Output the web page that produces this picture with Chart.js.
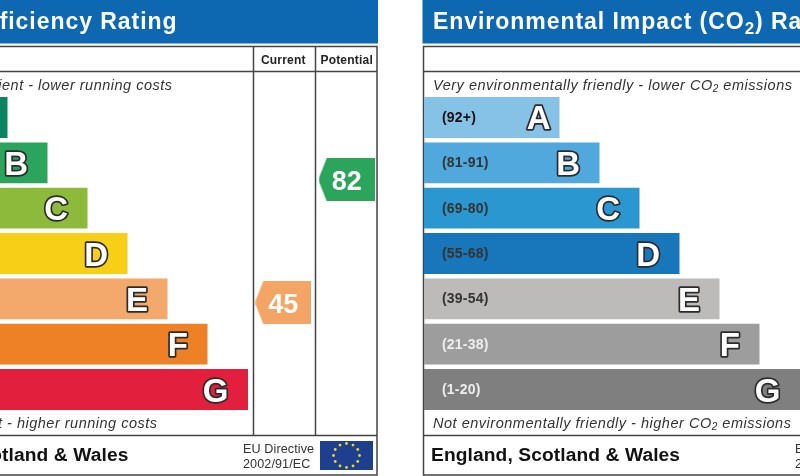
<!DOCTYPE html>
<html>
<head>
<meta charset="utf-8">
<title>Energy Performance Certificate ratings</title>
<script src="https://cdn.jsdelivr.net/npm/chart.js@4"></script>
<style>
  html, body { margin: 0; padding: 0; background: #fff; overflow: hidden; }
  canvas { display: block; }
</style>
</head>
<body>
<canvas id="epc" width="800" height="476"></canvas>
<script>
// Bandas y longitud de cada barra (misma escala para los dos paneles)
const bands = ['A', 'B', 'C', 'D', 'E', 'F', 'G'];
const bandRanges = ['(92+)', '(81-91)', '(69-80)', '(55-68)', '(39-54)', '(21-38)', '(1-20)'];
const bandLengths = [135.5, 175.5, 215.5, 255.5, 295.5, 335.5, 376];

const energyColors = ['#0b8560', '#2ba45c', '#8dba3b', '#f8cf17', '#f3a86c', '#ee8026', '#e21f3d'];
const co2Colors = ['#86c1e6', '#50a8dc', '#2a97d1', '#1876bb', '#bcbbba', '#9d9d9d', '#7f7f7f'];
const co2RangeColors = ['#111', '#333', '#333', '#333', '#333', '#eee', '#eee'];

// Puntuaciones
const ratingColumns = ['Current', 'Potential'];
const ratingScores = [45, 82];
const ratingColors = ['#f4a566', '#2ba45c'];

const NAVY = '#0d68b1';
const LINE = '#444';
const FONT = '"Liberation Sans", Arial, sans-serif';

// Etiqueta con flecha para las puntuaciones
function crearEtiqueta(color) {
    const c = document.createElement('canvas');
    c.width = 56;
    c.height = 43;
    const g = c.getContext('2d');
    g.fillStyle = color;
    g.beginPath();
    g.moveTo(56, 0);
    g.lineTo(8, 0);
    g.lineTo(0.5, 19);
    g.quadraticCurveTo(0, 21.5, 0.5, 24);
    g.lineTo(8, 43);
    g.lineTo(56, 43);
    g.closePath();
    g.fill();
    return c;
}

function texto(ctx, str, x, y, font, color, align, spacing) {
    ctx.font = font;
    ctx.fillStyle = color;
    ctx.textAlign = align || 'left';
    ctx.textBaseline = 'alphabetic';
    ctx.letterSpacing = (spacing || 0) + 'px';
    ctx.fillText(str, x, y);
}

// Texto con CO2 y subindice
function textoCO2(ctx, antes, despues, x, y, size, font, color, spacing, subRatio) {
    texto(ctx, antes, x, y, font + ' ' + size + 'px ' + FONT, color, 'left', spacing);
    x += ctx.measureText(antes).width;
    const subSize = Math.round(size * subRatio);
    texto(ctx, '2', x, y + size * 0.2, font + ' ' + subSize + 'px ' + FONT, color, 'left', 0);
    x += ctx.measureText('2').width + spacing;
    texto(ctx, despues, x, y, font + ' ' + size + 'px ' + FONT, color, 'left', spacing);
}

function banderaUE(ctx, x, y) {
    ctx.fillStyle = '#1d3f8e';
    ctx.fillRect(x, y, 53, 29);
    ctx.fillStyle = '#f0d728';
    for (let i = 0; i < 12; i++) {
        const a = i * Math.PI / 6;
        ctx.beginPath();
        ctx.arc(x + 26.5 + 13 * Math.sin(a), y + 14.5 + 12 * Math.cos(a), 1.4, 0, Math.PI * 2);
        ctx.fill();
    }
}

// Marcos, cabeceras y textos que no son datos
const marcoPlugin = {
    id: 'marco',
    beforeDatasetsDraw(chart) {
        const ctx = chart.ctx;
        ctx.save();
        ctx.fillStyle = NAVY;
        ctx.fillRect(0, 0, 378, 43.5);
        ctx.fillRect(422.5, 0, 378, 43.5);

        ctx.strokeStyle = LINE;
        ctx.lineWidth = 1.5;
        ctx.beginPath();
        // panel izquierdo
        ctx.moveTo(0, 46.5); ctx.lineTo(377, 46.5); ctx.lineTo(377, 475); ctx.lineTo(0, 475);
        ctx.moveTo(0, 71.5); ctx.lineTo(377, 71.5);
        ctx.moveTo(0, 435.5); ctx.lineTo(377, 435.5);
        ctx.moveTo(253.5, 46.5); ctx.lineTo(253.5, 435.5);
        ctx.moveTo(315.5, 46.5); ctx.lineTo(315.5, 435.5);
        // panel derecho
        ctx.moveTo(800, 46.5); ctx.lineTo(423.5, 46.5); ctx.lineTo(423.5, 475); ctx.lineTo(800, 475);
        ctx.moveTo(423.5, 71.5); ctx.lineTo(800, 71.5);
        ctx.moveTo(423.5, 435.5); ctx.lineTo(800, 435.5);
        ctx.stroke();
        ctx.restore();
    },
    afterDatasetsDraw(chart) {
        const ctx = chart.ctx;
        ctx.save();

        // Titulos
        texto(ctx, 'Energy Efficiency Rating', 177.5, 29, 'bold 23px ' + FONT, '#fff', 'right', 0.95);
        textoCO2(ctx, 'Environmental Impact (CO', ') Rating', 433, 29, 23, 'bold', '#fff', 0.95, 0.76);

        // Columnas
        const cols = chart.scales.xCols;
        ratingColumns.forEach((col, i) => {
            texto(ctx, col, cols.getPixelForValue(i), 63.5, 'bold 12px ' + FONT, '#222', 'center', 0.2);
        });

        // Frases
        const italic = 'italic 14.5px ' + FONT;
        texto(ctx, 'Very energy efficient - lower running costs', 172.5, 89.5, italic, '#333', 'right', 0.5);
        texto(ctx, 'Not energy efficient - higher running costs', 157.5, 427.5, italic, '#333', 'right', 0.5);
        textoCO2(ctx, 'Very environmentally friendly - lower CO', ' emissions', 433, 89.5, 14.5, 'italic', '#333', 0.52, 0.66);
        textoCO2(ctx, 'Not environmentally friendly - higher CO', ' emissions', 433, 427.5, 14.5, 'italic', '#333', 0.52, 0.66);

        // Pie
        texto(ctx, 'England, Scotland & Wales', 128.5, 461, 'bold 19.2px ' + FONT, '#111', 'right', 0.1);
        texto(ctx, 'England, Scotland & Wales', 431, 461, 'bold 19.2px ' + FONT, '#111', 'left', 0.1);
        [0, 552].forEach(dx => {
            texto(ctx, 'EU Directive', 243 + dx, 453, '12.6px ' + FONT, '#333', 'left', 0.1);
            texto(ctx, '2002/91/EC', 243 + dx, 468, '12.6px ' + FONT, '#333', 'left', 0.1);
            banderaUE(ctx, 320 + dx, 441);
        });

        // Letras y rangos de cada banda
        chart.data.datasets.forEach((ds, d) => {
            if (ds.type === 'scatter') return;
            chart.getDatasetMeta(d).data.forEach((bar, i) => {
                const fin = bar.x - (i === 0 ? 9 : 19.5);
                ctx.font = 'bold 33px ' + FONT;
                ctx.textAlign = 'right';
                ctx.textBaseline = 'alphabetic';
                ctx.letterSpacing = '0px';
                ctx.lineJoin = 'round';
                ctx.lineWidth = 3.4;
                ctx.strokeStyle = '#2b2b2b';
                ctx.strokeText(bands[i], fin, bar.y + 12);
                ctx.fillStyle = '#fff';
                ctx.fillText(bands[i], fin, bar.y + 12);
                if (ds.label === 'co2') {
                    texto(ctx, bandRanges[i], 442, bar.y + 4.5, 'bold 14px ' + FONT, co2RangeColors[i], 'left', 0.2);
                }
            });
        });

        // Numero de las etiquetas
        chart.getDatasetMeta(2).data.forEach((pt, i) => {
            texto(ctx, String(ratingScores[i]), pt.x, pt.y + 10, 'bold 27px ' + FONT, '#fff', 'center', 0);
        });
        ctx.restore();
    }
};

new Chart(document.getElementById('epc').getContext('2d'), {
    type: 'bar',
    data: {
        labels: bands,
        datasets: [
            {
                label: 'energy',
                data: bandLengths,
                backgroundColor: energyColors,
                xAxisID: 'xLeft',
                yAxisID: 'y'
            },
            {
                label: 'co2',
                data: bandLengths,
                backgroundColor: co2Colors,
                xAxisID: 'xRight',
                yAxisID: 'y'
            },
            {
                type: 'scatter',
                label: 'scores',
                indexAxis: 'x',
                data: ratingScores.map((s, i) => ({ x: i, y: s })),
                pointStyle: ratingColors.map(crearEtiqueta),
                xAxisID: 'xCols',
                yAxisID: 'yScore'
            }
        ]
    },
    options: {
        indexAxis: 'y',
        responsive: false,
        animation: false,
        layout: { autoPadding: false, padding: { top: 94.8, bottom: 63.8, left: 0, right: 0 } },
        datasets: { bar: { grouped: false, categoryPercentage: 1, barPercentage: 0.9, borderWidth: 0 } },
        plugins: { legend: { display: false }, tooltip: { enabled: false } },
        scales: {
            y: { type: 'category', display: false },
            xLeft: { axis: 'x', type: 'linear', bounds: 'data', min: 128, max: 928, display: false },
            xRight: { axis: 'x', type: 'linear', bounds: 'data', min: -424, max: 376, display: false },
            xCols: { axis: 'x', type: 'linear', bounds: 'data', min: -4.468, max: 8.15, display: false },
            yScore: { axis: 'y', type: 'linear', offset: false, bounds: 'data', min: 11.96, max: 107.57, display: false }
        }
    },
    plugins: [marcoPlugin]
});
</script>
</body>
</html>
